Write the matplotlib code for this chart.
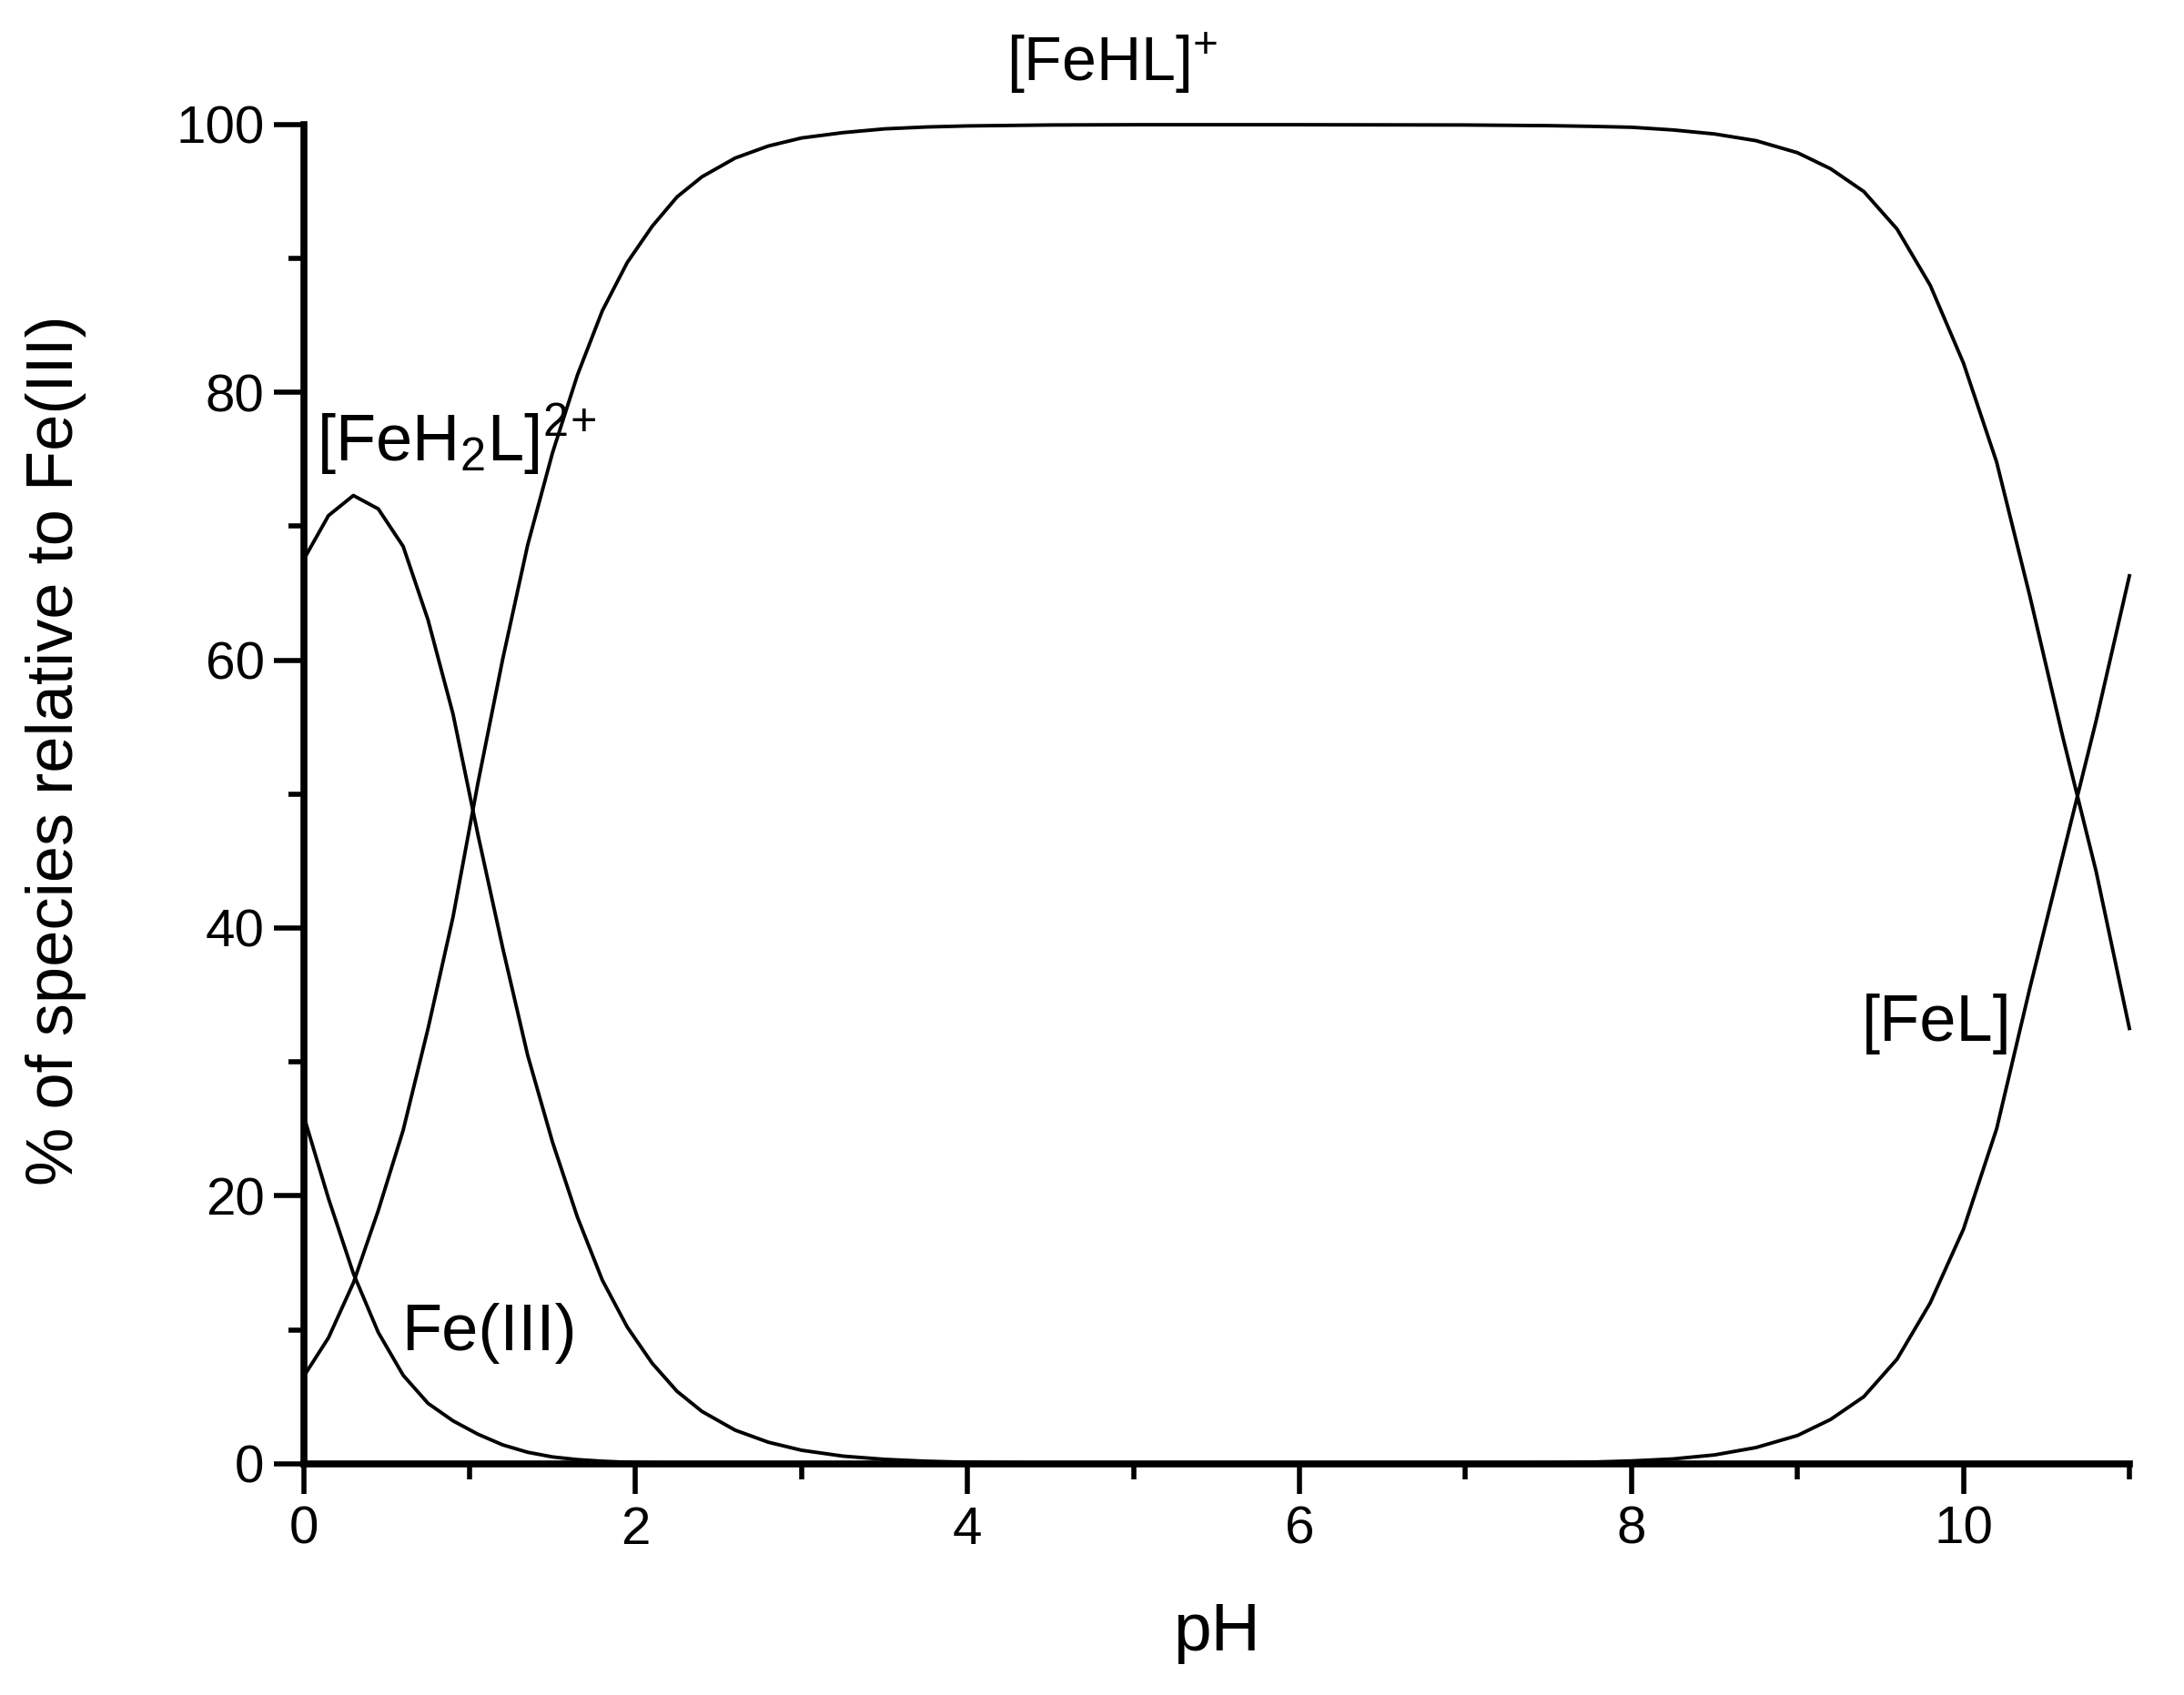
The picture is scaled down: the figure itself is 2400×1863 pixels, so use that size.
import numpy as np
import matplotlib.pyplot as plt
from matplotlib.ticker import MultipleLocator

plt.rcParams['font.family'] = ['Liberation Sans', 'DejaVu Sans']
plt.rcParams['mathtext.fontset'] = 'custom'
plt.rcParams['mathtext.rm'] = 'Liberation Sans'
plt.rcParams['mathtext.it'] = 'Liberation Sans:italic'

# pH grid (denser where species change)
pH = [0, 0.15, 0.3, 0.45, 0.6, 0.75, 0.9, 1.05, 1.2, 1.35, 1.5, 1.65, 1.8,
      1.95, 2.1, 2.25, 2.4, 2.6, 2.8, 3.0, 3.25, 3.5, 3.75, 4.0, 4.5, 5, 6, 7,
      7.5, 7.75, 8.0, 8.25, 8.5, 8.75, 9.0, 9.2, 9.4, 9.6, 9.8, 10.0, 10.2,
      10.4, 10.6, 10.8, 11.0]

fe3 = [26.0, 19.8, 14.2, 9.8, 6.6, 4.5, 3.2, 2.2, 1.4, 0.85, 0.5, 0.3, 0.18,
       0.1, 0.06, 0.03, 0.02, 0.01, 0, 0, 0, 0, 0, 0, 0, 0, 0, 0,
       0, 0, 0, 0, 0, 0, 0, 0, 0, 0, 0, 0, 0,
       0, 0, 0, 0]

feh2l = [67.5, 70.8, 72.3, 71.3, 68.5, 63.0, 56.0, 47.0, 38.5, 30.5, 24.0, 18.4, 13.7,
         10.2, 7.5, 5.4, 3.9, 2.5, 1.6, 1.0, 0.56, 0.32, 0.18, 0.1, 0.03, 0.01, 0, 0,
         0, 0, 0, 0, 0, 0, 0, 0, 0, 0, 0, 0, 0,
         0, 0, 0, 0]

fehl = [6.5, 9.4, 13.5, 18.9, 24.9, 32.5, 40.8, 50.8, 60.1, 68.6, 75.5, 81.3, 86.1,
        89.7, 92.4, 94.6, 96.1, 97.5, 98.4, 99.0, 99.4, 99.68, 99.82, 99.9, 99.97, 99.99, 99.99, 99.97,
        99.92, 99.87, 99.8, 99.6, 99.3, 98.8, 97.9, 96.7, 95.0, 92.2, 88.0, 82.2, 74.8,
        64.8, 54.2, 44.2, 32.5]

fel = [0, 0, 0, 0, 0, 0, 0, 0, 0, 0, 0, 0, 0,
       0, 0, 0, 0, 0, 0, 0, 0, 0, 0, 0, 0, 0, 0, 0.02,
       0.06, 0.11, 0.2, 0.35, 0.65, 1.2, 2.1, 3.3, 5.0, 7.8, 12.0, 17.5, 25.0,
       35.5, 45.5, 55.5, 66.3]

fig = plt.figure(figsize=(24, 18.63), dpi=100)
ax = fig.add_axes([0.139, 0.1365, 0.836, 0.790])

for y in (fe3, feh2l, fehl, fel):
    ax.plot(pH, y, color='black', lw=2.8, clip_on=False)

ax.set_xlim(0, 11)
ax.set_ylim(0, 100)
ax.spines['top'].set_visible(False)
ax.spines['right'].set_visible(False)
for s in ('left', 'bottom'):
    ax.spines[s].set_linewidth(5.5)

ax.xaxis.set_major_locator(MultipleLocator(2))
ax.xaxis.set_minor_locator(MultipleLocator(1))
ax.yaxis.set_major_locator(MultipleLocator(20))
ax.yaxis.set_minor_locator(MultipleLocator(10))
ax.tick_params(which='major', direction='out', length=24, width=4, labelsize=42)
ax.tick_params(which='minor', direction='out', length=12, width=4)
ax.tick_params(axis='x', which='major', pad=9)
ax.tick_params(axis='y', which='major', pad=7)

ax.set_xlabel('pH', fontsize=54)
ax.set_ylabel('% of species relative to Fe(III)', fontsize=52)
ax.xaxis.set_label_coords(0.5, -0.103)
ax.yaxis.set_label_coords(-0.119, 0.533)

ax.text(4.87, 104.6, r'[FeHL]$^{+}$', fontsize=49, ha='center', va='center', clip_on=False)
ax.text(0.08, 76.5, r'[FeH$_2$L]$^{2}$$^{+}$', fontsize=52, ha='left', va='center')
ax.text(1.12, 9.7, 'Fe(III)', fontsize=52, ha='center', va='center')
ax.text(9.84, 32.8, '[FeL]', fontsize=52, ha='center', va='center')

fig.savefig('out.png', dpi=100)
